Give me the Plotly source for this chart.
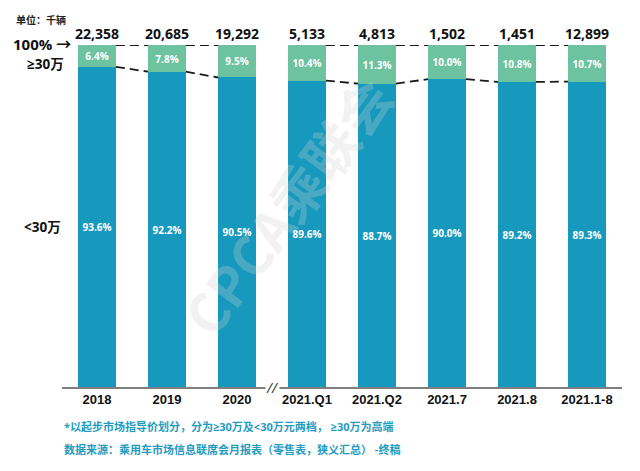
import plotly.graph_objects as go

categories = ["2018", "2019", "2020", "2021.Q1", "2021.Q2", "2021.7", "2021.8", "2021.1-8"]
totals = ["22,358", "20,685", "19,292", "5,133", "4,813", "1,502", "1,451", "12,899"]
below30 = [93.6, 92.2, 90.5, 89.6, 88.7, 90.0, 89.2, 89.3]
above30 = [6.4, 7.8, 9.5, 10.4, 11.3, 10.0, 10.8, 10.7]

DARK = "#1699bd"
LIGHT = "#6dc2a0"
TEAL_TXT = "#1f9cbf"
FONT = "Open Sans, Noto Sans CJK SC, DejaVu Sans, sans-serif"
CJK = "Noto Sans CJK SC, sans-serif"

xs = list(range(len(categories)))
W = 0.54

fig = go.Figure()
fig.add_trace(go.Bar(
    x=xs, y=below30, width=W, marker=dict(color=DARK, line=dict(width=0)),
    text=[f"<b>{v:.1f}%</b>" for v in below30], textposition="inside", insidetextanchor="middle",
    textfont=dict(color="white", size=10, family=FONT), textangle=0,
))
fig.add_trace(go.Bar(
    x=xs, y=above30, width=W, marker=dict(color=LIGHT, line=dict(width=0)),
    text=[f"<b>{v:.1f}%</b>" for v in above30], textposition="inside", insidetextanchor="middle",
    textfont=dict(color="white", size=10, family=FONT), textangle=0,
))

# dashed connectors (skip the break between 2020 and 2021.Q1)
lx_top, ly_top, lx_mid, ly_mid = [], [], [], []
for i in range(len(categories) - 1):
    if i == 2:
        continue
    lx_top += [i + W / 2, i + 1 - W / 2, None]
    ly_top += [100, 100, None]
    lx_mid += [i + W / 2, i + 1 - W / 2, None]
    ly_mid += [below30[i], below30[i + 1], None]
for lx, ly in ((lx_top, ly_top), (lx_mid, ly_mid)):
    fig.add_trace(go.Scatter(x=lx, y=ly, mode="lines", hoverinfo="skip", cliponaxis=False,
                             line=dict(color="#1a1a1a", width=1.8, dash="9px,5px")))

# totals above bars
for i, t in enumerate(totals):
    fig.add_annotation(x=i, y=100, yshift=12, text=f"<b>{t}</b>", showarrow=False,
                       font=dict(size=14, color="#111111", family=FONT))

# left labels
fig.add_annotation(xref="paper", yref="y", x=0.018, y=100, yshift=1, text="<b>100% →</b>", showarrow=False,
                   xanchor="right", borderpad=0, font=dict(size=15, color="#111111", family=FONT))
fig.add_annotation(xref="paper", yref="y", x=0.005, y=94.4, text="<b>≥30万</b>", showarrow=False,
                   xanchor="right", borderpad=0, font=dict(size=13.5, color="#111111", family=FONT))
fig.add_annotation(xref="paper", yref="y", x=0.0, y=46.8, text="<b><30万</b>", showarrow=False,
                   xanchor="right", borderpad=0, font=dict(size=13.5, color="#111111", family=FONT))

# unit label
fig.add_annotation(xref="paper", yref="paper", x=-0.085, y=1.102, text="<b>单位：千辆</b>",
                   showarrow=False, xanchor="left", font=dict(size=10, color="#222222", family=CJK))

# axis break mark
fig.add_annotation(x=2.5, y=0, text="<i>//</i>", showarrow=False,
                   font=dict(size=14, color="#333333", family=FONT), bgcolor="white", borderpad=0)

# footnotes
fig.add_annotation(xref="paper", yref="paper", x=0, y=-0.143, text="<b>*以起步市场指导价划分，分为≥30万及<30万元两档， ≥30万为高端</b>",
                   showarrow=False, xanchor="left", font=dict(size=11, color=TEAL_TXT, family=FONT))
fig.add_annotation(xref="paper", yref="paper", x=0, y=-0.211, text="<b>数据来源：乘用车市场信息联席会月报表（零售表，狭义汇总） -终稿</b>",
                   showarrow=False, xanchor="left", font=dict(size=11, color=TEAL_TXT, family=CJK))

# watermark
fig.add_annotation(xref="paper", yref="paper", x=0.40, y=0.53, text="<b>CPCA乘联会</b>", showarrow=False,
                   textangle=-53, font=dict(size=54, color="rgba(210,210,210,0.28)", family=CJK))

fig.update_layout(
    width=640, height=471, barmode="stack", showlegend=False, bargap=0,
    plot_bgcolor="white", paper_bgcolor="white",
    margin=dict(l=62, r=18, t=45, b=84),
    font=dict(family=FONT),
    xaxis=dict(range=[-0.5, 7.5], tickvals=xs, ticktext=[f"<b>{c}</b>" for c in categories],
               tickfont=dict(size=13, color="#111111", family="Liberation Sans, Arial, sans-serif"),
               showline=True, linecolor="#7f7f7f", linewidth=1.5, ticks="", showgrid=False,
               zeroline=False, fixedrange=True),
    yaxis=dict(range=[0, 100], visible=False, showgrid=False, zeroline=False, fixedrange=True),
)

fig.write_html("out.html", config={"displayModeBar": False},
               post_script="document.body.style.margin='0';")
